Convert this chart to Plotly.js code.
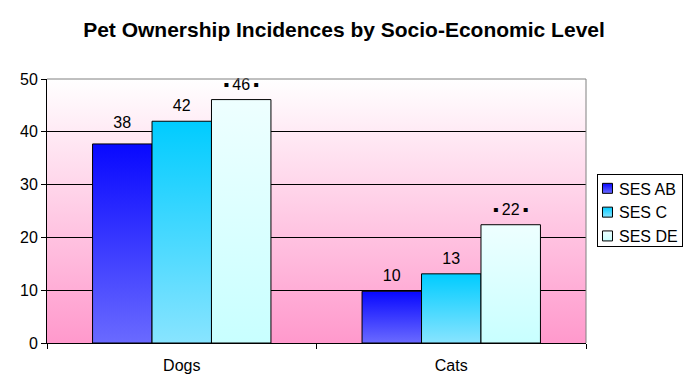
<!DOCTYPE html>
<html>
<head>
<meta charset="utf-8">
<script src="https://cdn.plot.ly/plotly-3.0.1.min.js"></script>
<style>html,body{margin:0;padding:0;background:#fff;}#chart{width:688px;height:390px;}</style>
</head>
<body>
<div id="chart"></div>
<script>
const categories = ["Dogs", "Cats"];
const seriesNames = ["SES AB", "SES C", "SES DE"];
const sesAB = [37.7, 9.8];
const sesC = [42.0, 13.1];
const sesDE = [46.1, 22.4];
const yTicks = [0, 10, 20, 30, 40, 50];

const FONT = "Arial, 'Liberation Sans', sans-serif";
const gradients = [
  {id: "gAB", top: "#0808FF", bottom: "#6A6AFF"},
  {id: "gC", top: "#00CCFF", bottom: "#88E4FF"},
  {id: "gDE", top: "#EEFFFF", bottom: "#C8FFFF"}
];
const solid = ["#3333FF", "#33CCFF", "#CCFFFF"];
// extra vertical nudge (px) of the value labels, per series / per category
const labelNudge = [[-10, -4], [-4, -4], [-4, -4]];

const values = [sesAB, sesC, sesDE];
const traces = values.map((v, i) => ({
  type: "bar",
  name: seriesNames[i],
  x: categories,
  y: v,
  marker: {color: solid[i], line: {color: "#000", width: 1}},
  texttemplate: i === 2 ? "▪\u2009%{y:.0f}\u2009▪" : "%{y:.0f}",
  textposition: "outside",
  textfont: {family: FONT, size: 16, color: "#000"},
  cliponaxis: false,
  hoverinfo: "none"
}));

const layout = {
  width: 688, height: 390,
  margin: {l: 47, r: 102, t: 78.5, b: 47.3, autoexpand: false},
  paper_bgcolor: "#fff",
  plot_bgcolor: "#FFC8E4",
  font: {family: FONT, size: 16, color: "#000"},
  title: {text: "<b>Pet Ownership Incidences by Socio-Economic Level</b>", font: {family: FONT, size: 21, color: "#000"}, x: 0.5, xanchor: "center", y: 0.925, yanchor: "middle"},
  barmode: "group",
  bargap: 0.338,
  bargroupgap: 0,
  xaxis: {
    type: "category",
    showline: true, linecolor: "#000", linewidth: 1,
    ticks: "outside", tickson: "boundaries", ticklen: 5, tickcolor: "#000",
    tickfont: {family: FONT, size: 16, color: "#000"},
    ticklabelstandoff: 8,
    showgrid: false, zeroline: false
  },
  yaxis: {
    range: [0, 50], tickvals: yTicks,
    showline: true, linecolor: "#000", linewidth: 1,
    ticks: "outside", ticklen: 5, tickcolor: "#000",
    tickfont: {family: FONT, size: 16, color: "#000"},
    showgrid: true, gridcolor: "#000", gridwidth: 1, zeroline: false
  },
  legend: {
    x: 1.0204, xanchor: "left", y: 0.6385, yanchor: "top",
    bgcolor: "#fff", bordercolor: "#000", borderwidth: 1,
    font: {family: FONT, size: 16, color: "#000"},
    tracegroupgap: 0
  },
  shapes: [
    {type: "line", xref: "paper", yref: "paper", x0: 0, x1: 1, y0: 1, y1: 1, line: {color: "#808080", width: 1}},
    {type: "line", xref: "paper", yref: "paper", x0: 1, x1: 1, y0: 0, y1: 1, line: {color: "#808080", width: 1}}
  ],
  showlegend: true
};

Plotly.newPlot("chart", traces, layout, {staticPlot: true}).then(gd => {
  const svg = gd.querySelector("svg.main-svg");
  const ns = "http://www.w3.org/2000/svg";
  let defs = svg.querySelector("defs");
  if (!defs) { defs = document.createElementNS(ns, "defs"); svg.insertBefore(defs, svg.firstChild); }
  function addGrad(id, top, bottom) {
    const lg = document.createElementNS(ns, "linearGradient");
    lg.setAttribute("id", id);
    lg.setAttribute("x1", "0"); lg.setAttribute("y1", "0");
    lg.setAttribute("x2", "0"); lg.setAttribute("y2", "1");
    [[0, top], [1, bottom]].forEach(([o, c]) => {
      const s = document.createElementNS(ns, "stop");
      s.setAttribute("offset", o);
      s.setAttribute("stop-color", c);
      lg.appendChild(s);
    });
    defs.appendChild(lg);
  }
  gradients.forEach(g => addGrad(g.id, g.top, g.bottom));
  addGrad("gBG", "#FFFFFF", "#FF99CC");
  const bg = svg.querySelector(".bglayer rect.bg");
  if (bg) bg.style.fill = "url(#gBG)";
  svg.querySelectorAll(".barlayer .trace").forEach((t, i) => {
    t.querySelectorAll(".point path").forEach(p => { p.style.fill = "url(#" + gradients[i].id + ")"; });
    t.querySelectorAll(".point").forEach((pt, j) => {
      const tx = pt.querySelector("text");
      if (!tx) return;
      const tr = tx.getAttribute("transform") || "";
      tx.setAttribute("transform", "translate(0," + labelNudge[i][j] + ") " + tr);
    });
  });
  const leg = gd.querySelector(".legend");
  if (leg) {
    leg.querySelectorAll(".traces").forEach((t, i) => {
      t.setAttribute("transform", "translate(0,-4) " + (t.getAttribute("transform") || ""));
      t.querySelectorAll(".legendpoints path").forEach(p => {
        p.setAttribute("d", "M5,5H-5V-5H5Z");
        p.setAttribute("transform", "translate(9.5,0)");
        p.style.fill = "url(#" + gradients[i].id + ")";
        p.style.strokeWidth = "1px";
        p.style.stroke = "#000";
      });
      const tx = t.querySelector("text.legendtext");
      if (tx) tx.setAttribute("x", "21");
    });
    const lbg = leg.querySelector("rect.bg");
    if (lbg) { lbg.setAttribute("width", "85"); lbg.setAttribute("height", "72"); }
  }
});
</script>
</body>
</html>
